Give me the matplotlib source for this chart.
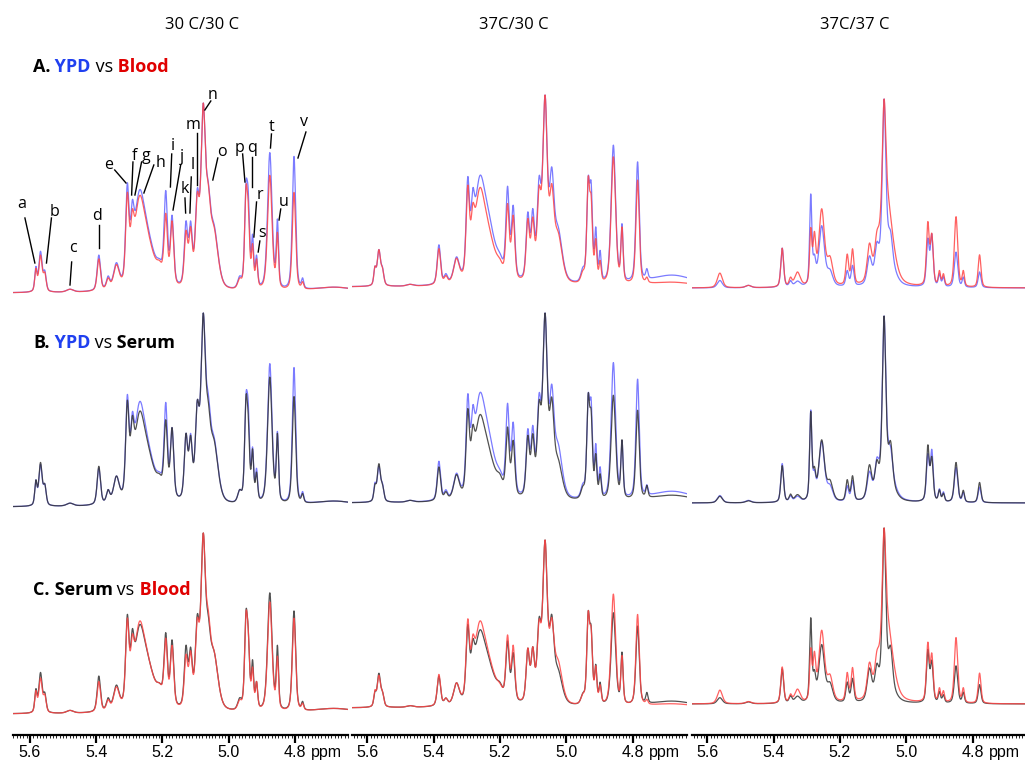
import numpy as np
import matplotlib
matplotlib.use("Agg")
import matplotlib.pyplot as plt
from matplotlib.ticker import MultipleLocator

#---------------- Peak tables ----------------#
# ppm = peak position, width = half width (ppm), probe = where the height was read,
# heights are relative to the tallest signal (n = 1.0) of each spectrum

# 30 C/30 C
c1_ppm   = [5.582, 5.568, 5.555, 5.479, 5.392, 5.364, 5.339, 5.306, 5.291, 5.270, 5.245, 5.208, 5.190, 5.171,
            5.129, 5.115, 5.095, 5.077, 5.062, 5.045, 4.967, 4.948, 4.941, 4.928, 4.916, 4.876, 4.853, 4.803, 4.777, 4.680]
c1_width = [0.004, 0.006, 0.005, 0.012, 0.006, 0.006, 0.010, 0.006, 0.006, 0.018, 0.028, 0.010, 0.006, 0.006,
            0.006, 0.006, 0.007, 0.008, 0.008, 0.015, 0.007, 0.005, 0.005, 0.004, 0.004, 0.008, 0.004, 0.006, 0.004, 0.08]
c1_probe = [5.582, 5.568, 5.555, 5.479, 5.392, 5.364, 5.339, 5.306, 5.291, 5.270, 5.240, 5.208, 5.190, 5.171,
            5.129, 5.115, 5.095, 5.077, 5.062, 5.037, 4.967, 4.948, 4.941, 4.928, 4.916, 4.876, 4.853, 4.803, 4.777, 4.700]
c1_ypd   = [0.14, 0.22, 0.12, 0.02, 0.20, 0.09, 0.16, 0.58, 0.49, 0.54, 0.32, 0.18, 0.54, 0.41,
            0.38, 0.38, 0.55, 1.00, 0.59, 0.28, 0.09, 0.58, 0.54, 0.31, 0.20, 0.74, 0.39, 0.72, 0.08, 0.03]
c1_blood = [0.13, 0.20, 0.11, 0.02, 0.18, 0.08, 0.15, 0.53, 0.44, 0.51, 0.30, 0.17, 0.42, 0.38,
            0.33, 0.35, 0.53, 1.00, 0.58, 0.27, 0.08, 0.56, 0.47, 0.26, 0.18, 0.62, 0.32, 0.53, 0.06, 0.03]
c1_serum = [0.14, 0.23, 0.12, 0.02, 0.21, 0.09, 0.16, 0.55, 0.47, 0.49, 0.30, 0.17, 0.45, 0.41,
            0.38, 0.37, 0.55, 1.00, 0.55, 0.27, 0.09, 0.57, 0.47, 0.30, 0.18, 0.67, 0.38, 0.57, 0.07, 0.03]

# 37C/30 C
c2_ppm   = [5.577, 5.565, 5.554, 5.471, 5.384, 5.363, 5.331, 5.297, 5.282, 5.262, 5.237, 5.200, 5.177, 5.160,
            5.116, 5.101, 5.082, 5.064, 5.044, 5.025, 4.950, 4.934, 4.925, 4.911, 4.898, 4.858, 4.832, 4.785, 4.757, 4.680]
c2_width = [0.004, 0.006, 0.005, 0.012, 0.006, 0.006, 0.010, 0.006, 0.006, 0.018, 0.028, 0.010, 0.006, 0.006,
            0.006, 0.006, 0.007, 0.008, 0.008, 0.015, 0.007, 0.005, 0.005, 0.004, 0.004, 0.008, 0.004, 0.006, 0.004, 0.08]
c2_probe = [5.577, 5.565, 5.554, 5.471, 5.384, 5.363, 5.331, 5.297, 5.282, 5.262, 5.240, 5.200, 5.177, 5.160,
            5.116, 5.101, 5.082, 5.064, 5.044, 5.027, 4.950, 4.934, 4.925, 4.911, 4.898, 4.858, 4.832, 4.785, 4.757, 4.700]
c2_ypd   = [0.108, 0.195, 0.104, 0.014, 0.22, 0.07, 0.157, 0.574, 0.513, 0.574, 0.45, 0.177, 0.525, 0.426,
            0.391, 0.409, 0.577, 1.00, 0.626, 0.33, 0.104, 0.574, 0.548, 0.313, 0.191, 0.739, 0.33, 0.652, 0.096, 0.06]
c2_blood = [0.108, 0.195, 0.10, 0.014, 0.20, 0.06, 0.15, 0.53, 0.435, 0.513, 0.38, 0.148, 0.435, 0.374,
            0.357, 0.365, 0.525, 1.00, 0.539, 0.30, 0.087, 0.574, 0.478, 0.252, 0.139, 0.678, 0.313, 0.557, 0.052, 0.025]
c2_serum = [0.10, 0.207, 0.10, 0.014, 0.19, 0.06, 0.15, 0.496, 0.41, 0.46, 0.35, 0.154, 0.40, 0.33,
            0.356, 0.365, 0.54, 1.00, 0.558, 0.25, 0.09, 0.575, 0.488, 0.26, 0.154, 0.567, 0.333, 0.488, 0.093, 0.04]

# 37C/37 C
c3_ppm   = [5.562, 5.476, 5.374, 5.349, 5.328, 5.288, 5.277, 5.255, 5.230, 5.178, 5.162, 5.111, 5.089,
            5.067, 5.060, 5.047, 4.935, 4.923, 4.900, 4.888, 4.850, 4.828, 4.779]
c3_width = [0.009, 0.010, 0.005, 0.005, 0.010, 0.004, 0.005, 0.010, 0.010, 0.005, 0.005, 0.008, 0.007,
            0.006, 0.022, 0.007, 0.005, 0.005, 0.004, 0.004, 0.006, 0.004, 0.005]
c3_probe = [5.562, 5.476, 5.374, 5.349, 5.328, 5.288, 5.277, 5.255, 5.230, 5.178, 5.162, 5.111, 5.089,
            5.067, 5.030, 5.047, 4.935, 4.923, 4.900, 4.888, 4.850, 4.828, 4.779]
c3_ypd   = [0.04, 0.014, 0.211, 0.04, 0.037, 0.498, 0.18, 0.33, 0.10, 0.093, 0.12, 0.17, 0.243,
            1.00, 0.085, 0.30, 0.264, 0.287, 0.076, 0.06, 0.19, 0.058, 0.085]
c3_blood = [0.079, 0.014, 0.211, 0.058, 0.085, 0.32, 0.30, 0.42, 0.17, 0.18, 0.208, 0.238, 0.30,
            1.00, 0.16, 0.375, 0.352, 0.29, 0.093, 0.076, 0.378, 0.093, 0.176]
c3_serum = [0.036, 0.012, 0.20, 0.048, 0.045, 0.49, 0.196, 0.338, 0.125, 0.125, 0.146, 0.205, 0.23,
            1.00, 0.07, 0.33, 0.311, 0.249, 0.071, 0.053, 0.217, 0.068, 0.11]

vecColTitles = ["30 C/30 C", "37C/30 C", "37C/37 C"]
vecTickVals = [5.6, 5.4, 5.2, 5.0, 4.8]
vecTickLabels = ["5.6", "5.4", "5.2", "5.0", "4.8"]

# row pairs: (first, second)
vecRowPairs = [("YPD", "Blood"), ("YPD", "Serum"), ("Serum", "Blood")]
vecRowLetters = ["A.", "B.", "C."]

# peak letters of panel A (30 C/30 C): text pos and pointer line (ppm, height)
vecLetters = ["a", "b", "c", "d", "e", "f", "g", "h", "i", "j", "k", "l", "m", "n", "o", "p", "q", "r", "s", "t", "u", "v"]
vecLetterX = [5.625, 5.525, 5.471, 5.399, 5.362, 5.283, 5.248, 5.205, 5.169, 5.142, 5.132, 5.109, 5.109, 5.048, 5.019,
              4.967, 4.929, 4.906, 4.899, 4.871, 4.834, 4.773]
vecLetterY = [531, 523, 487, 519, 570, 579, 579, 572, 589, 578, 546, 570, 610, 640, 583, 587, 587, 540, 502, 608, 533, 613]
vecLineX0 = [5.615, 5.535, 5.474, 5.392, 5.344, 5.289, 5.263, 5.226, 5.172, 5.145, 5.132, 5.113, 5.096, 5.054, 5.033,
             4.958, 4.931, 4.916, 4.906, 4.871, 4.843, 4.767]
vecLineY0 = [517, 517, 473, 510, 565, 573, 573, 570, 581, 570, 537, 558, 602, 634, 577, 581, 578, 533, 494, 601, 526, 603]
vecLineX1 = [5.585, 5.550, 5.479, 5.392, 5.310, 5.293, 5.283, 5.256, 5.176, 5.168, 5.130, 5.117, 5.096, 5.072, 5.048,
             4.951, 4.931, 4.924, 4.911, 4.874, 4.848, 4.791]
vecLineY1 = [472, 472, 450, 487, 552, 540, 540, 542, 548, 525, 522, 522, 550, 625, 555, 553, 548, 498, 483, 587, 515, 577]

#---------------- Layout (pixels) ----------------#
W, H = 1025, 766
AXIS_Y = 735
vecColLeft = [13, 352, 692]
vecColXLim = [(5.651, 4.640), (5.646, 4.636), (5.646, 4.636)]
vecBase = [[293, 507, 714], [287, 503, 708], [288, 503, 704]]
vecScale = [[190, 194, 181], [192, 190, 168], [189, 187, 176]]

dColors = {"YPD": "#6464ff", "Blood": "#ff4545", "Serum": "#333333"}
dTextColors = {"YPD": "#2040f0", "Blood": "#e00000", "Serum": "black"}
ETA = 0.45   # lorentzian fraction of the line shape


def LineShape(x, x0, w):
    u = (x - x0) / w
    return ETA / (1.0 + u ** 2) + (1 - ETA) * np.exp(-np.log(2) * u ** 2)


def BuildSpectrum(x, ppm, width, probe, heights):
    ppm = np.array(ppm); width = np.array(width)
    probe = np.array(probe); heights = np.array(heights)
    A = LineShape(probe[:, None], ppm[None, :], width[None, :])
    free = np.ones(len(ppm), dtype=bool)
    amp = np.zeros(len(ppm))
    for _ in range(40):
        amp[:] = 0
        amp[free] = np.linalg.lstsq(A[:, free], heights, rcond=None)[0]
        if (amp >= 0).all():
            break
        free &= amp > 0
    amp = np.clip(amp, 0, None)
    y = (amp[None, :] * LineShape(x[:, None], ppm[None, :], width[None, :])).sum(1)
    return y / y.max()


vecTables = [
    (c1_ppm, c1_width, c1_probe, {"YPD": c1_ypd, "Blood": c1_blood, "Serum": c1_serum}),
    (c2_ppm, c2_width, c2_probe, {"YPD": c2_ypd, "Blood": c2_blood, "Serum": c2_serum}),
    (c3_ppm, c3_width, c3_probe, {"YPD": c3_ypd, "Blood": c3_blood, "Serum": c3_serum}),
]

plt.rcParams["font.family"] = ["Open Sans", "DejaVu Sans"]
fig = plt.figure(figsize=(W / 100, H / 100), dpi=100)

X = np.linspace(5.66, 4.63, 4000)
vecAx = []

for c in range(3):
    ax = fig.add_axes([vecColLeft[c] / W, (H - AXIS_Y) / H, 335 / W, AXIS_Y / H])
    ax.patch.set_alpha(0)
    vecAx.append(ax)
    ppm, width, probe, dHeights = vecTables[c]
    dSpec = {k: BuildSpectrum(X, ppm, width, probe, v) for k, v in dHeights.items()}

    for r in range(3):
        y0 = AXIS_Y - vecBase[c][r]
        for strMed in vecRowPairs[r]:
            ax.plot(X, y0 + vecScale[c][r] * dSpec[strMed], color=dColors[strMed], lw=0.9, alpha=0.85)

    ax.set_xlim(*vecColXLim[c])
    ax.set_ylim(0, AXIS_Y)
    for s in ["left", "right", "top"]:
        ax.spines[s].set_visible(False)
    ax.spines["bottom"].set_linewidth(1.6)
    ax.set_yticks([])
    ax.set_xticks(vecTickVals)
    ax.set_xticklabels(vecTickLabels, family=["Liberation Sans"], fontsize=11.5)
    ax.xaxis.set_minor_locator(MultipleLocator(0.01))
    ax.tick_params(axis="x", which="major", length=6, width=1.6, pad=1.5)
    ax.tick_params(axis="x", which="minor", length=2, width=0.6)
    ax.text(4.752, -9.5 / AXIS_Y, "ppm", transform=ax.get_xaxis_transform(), ha="left", va="top",
            family=["Liberation Sans"], fontsize=11.5)

    if c == 0:
        for i in range(len(vecLetters)):
            ax.text(vecLetterX[i], vecLetterY[i], vecLetters[i], ha="center", va="center", fontsize=11.5)
            ax.plot([vecLineX0[i], vecLineX1[i]], [vecLineY0[i], vecLineY1[i]], color="black", lw=1)

# column titles
vecTitleX = [202, 514, 855]
for c in range(3):
    fig.text(vecTitleX[c] / W, 1 - 25 / H, vecColTitles[c], ha="center", va="center", fontsize=12)

# row labels, pieces chained left to right
vecRowY = [67, 343, 590]
for r in range(3):
    t = fig.text(33 / W, 1 - vecRowY[r] / H, vecRowLetters[r], ha="left", va="center",
                 fontsize=13, fontweight="bold", color="black")
    m1, m2 = vecRowPairs[r]
    for strPiece, strW, strC in [(" " + m1, "bold", dTextColors[m1]), (" vs", "normal", "black"),
                                 (" " + m2, "bold", dTextColors[m2])]:
        t = vecAx[0].annotate(strPiece, xy=(1, 0), xycoords=t, va="bottom", ha="left", fontsize=13,
                              fontweight=strW, color=strC, annotation_clip=False)

plt.savefig("out.png", dpi=100)
